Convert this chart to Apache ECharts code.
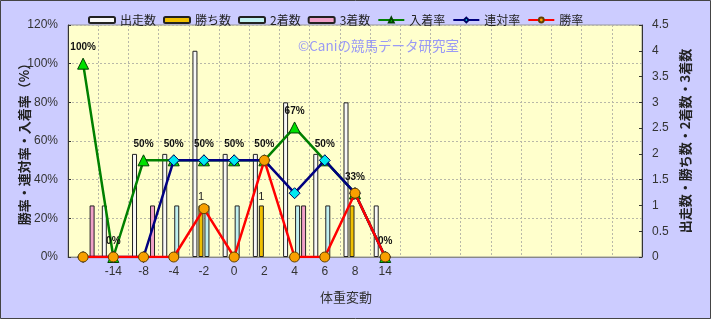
<!DOCTYPE html>
<html><head><meta charset="utf-8">
<script src="https://cdn.jsdelivr.net/npm/echarts@6/dist/echarts.min.js"></script>
<style>html,body{margin:0;padding:0;background:#ccccff;}#c{width:711px;height:319px;}</style>
</head><body><div id="c"></div>
<script>
const categories = ['', '-14', '-8', '-4', '-2', '0', '2', '4', '6', '8', '14', '', '', '', '', '', '', '', ''];
const runs   = [0, 1, 2, 2, 4, 2, 2, 3, 2, 3, 1];
const wins   = [0, 0, 0, 0, 1, 0, 1, 0, 0, 1, 0];
const second = [0, 0, 0, 1, 1, 1, 0, 1, 1, 0, 0];
const third  = [1, 0, 1, 0, 0, 0, 0, 1, 0, 0, 0];
const placeRate = [100, 0, 50, 50, 50, 50, 50, 67, 50, 33, 0];
const rentaiRate = [0, 0, 0, 50, 50, 50, 50, 33, 50, 33, 0];
const winRate = [0, 0, 0, 0, 25, 0, 50, 0, 0, 33, 0];
const leftTicks = {min: 0, max: 120, interval: 20};
const rightTicks = {min: 0, max: 4.5, interval: 0.5};

const FONT = '"Liberation Sans", "Noto Sans CJK JP", sans-serif';
const JP = '"Noto Sans CJK JP", sans-serif';
const nz = a => a.map(v => v === 0 ? '-' : v);

const chart = echarts.init(document.getElementById('c'));
const barBase = {type: 'bar', yAxisIndex: 1, barWidth: 5, barGap: '20%', z: 2};
chart.setOption({
  animation: false,
  backgroundColor: '#ccccff',
  textStyle: {fontFamily: FONT},
  graphic: [
    {type: 'rect', shape: {x: 0.5, y: 0.5, width: 710, height: 318}, style: {fill: 'none', stroke: '#444', lineWidth: 1}, z: 100},
    {type: 'text', left: 298, top: 39, style: {text: '©Caniの競馬データ研究室', font: '13.5px ' + JP, fill: '#9a9af5'}, z: 1}
  ],
  legend: {
    left: 83, top: 9, itemWidth: 26, itemHeight: 6, itemGap: 7,
    textStyle: {fontFamily: JP, fontSize: 12, color: '#222'},
    data: ['出走数', '勝ち数', '2着数', '3着数', '入着率', '連対率', '勝率']
  },
  grid: {left: 68, right: 69, top: 25, bottom: 62, containLabel: false, outerBoundsMode: 'none', show: true, backgroundColor: '#ffffcc', borderColor: '#999', borderWidth: 1},
  xAxis: {
    type: 'category', data: categories, boundaryGap: true,
    name: '体重変動', nameLocation: 'middle', nameGap: 34,
    nameTextStyle: {fontFamily: JP, fontSize: 13, color: '#333', padding: [0, 18, 0, 0]},
    axisLine: {lineStyle: {color: '#888'}}, axisTick: {show: false},
    axisLabel: {color: '#333', fontSize: 12, margin: 9, interval: 0},
    splitLine: {show: true, interval: 0, lineStyle: {color: '#b8b8a8', type: [2, 2]}}
  },
  yAxis: [
    {type: 'value', min: leftTicks.min, max: leftTicks.max, interval: leftTicks.interval, position: 'left',
     name: '勝率・連対率・入着率（%）', nameLocation: 'middle', nameGap: 37, nameRotate: 90, nameMoveOverlap: false,
     nameTextStyle: {fontFamily: JP, fontSize: 13, fontWeight: 'bold', color: '#222'},
     axisLine: {show: true, lineStyle: {color: '#333'}}, axisTick: {show: true, inside: true, length: 3, lineStyle: {color: '#333'}},
     axisLabel: {formatter: '{value}%', color: '#333', fontSize: 12, margin: 10},
     splitLine: {show: true, lineStyle: {color: '#b8b8a8', type: [2, 2]}}},
    {type: 'value', min: rightTicks.min, max: rightTicks.max, interval: rightTicks.interval, position: 'right',
     name: '出走数・勝ち数・2着数・3着数', nameLocation: 'middle', nameGap: 37, nameRotate: 90, nameMoveOverlap: false,
     nameTextStyle: {fontFamily: JP, fontSize: 13, fontWeight: 'bold', color: '#222'},
     axisLine: {show: true, lineStyle: {color: '#333'}}, axisTick: {show: true, inside: true, length: 3, lineStyle: {color: '#333'}},
     axisLabel: {color: '#333', fontSize: 12, margin: 10},
     splitLine: {show: false}}
  ],
  series: [
    Object.assign({}, barBase, {name: '出走数', data: nz(runs), itemStyle: {color: '#f8f8f8', borderColor: '#222', borderWidth: 1}}),
    Object.assign({}, barBase, {name: '勝ち数', data: nz(wins), itemStyle: {color: '#f0c000', borderColor: '#222', borderWidth: 1},
      label: {show: true, position: 'top', distance: 3, color: '#222', fontSize: 11}}),
    Object.assign({}, barBase, {name: '2着数', data: nz(second), itemStyle: {color: '#bff0f0', borderColor: '#222', borderWidth: 1}}),
    Object.assign({}, barBase, {name: '3着数', data: nz(third), itemStyle: {color: '#f0a0c8', borderColor: '#222', borderWidth: 1}}),
    {name: '入着率', type: 'line', yAxisIndex: 0, z: 3, data: placeRate,
     symbol: 'triangle', symbolSize: 11, lineStyle: {color: '#008000', width: 2.5},
     itemStyle: {color: '#00e000', borderColor: '#004000', borderWidth: 1},
     label: {show: true, position: 'top', distance: 5, formatter: '{c}%', color: '#111', fontSize: 10, fontWeight: 'bold'}},
    {name: '連対率', type: 'line', yAxisIndex: 0, z: 4, data: rentaiRate,
     symbol: 'diamond', symbolSize: 11, lineStyle: {color: '#000080', width: 2.5},
     itemStyle: {color: '#00e8f0', borderColor: '#000060', borderWidth: 1}},
    {name: '勝率', type: 'line', yAxisIndex: 0, z: 5, data: winRate,
     symbol: 'circle', symbolSize: 10, lineStyle: {color: '#ff0000', width: 2.5},
     itemStyle: {color: '#f8a000', borderColor: '#604000', borderWidth: 1}}
  ]
});
</script></body></html>
